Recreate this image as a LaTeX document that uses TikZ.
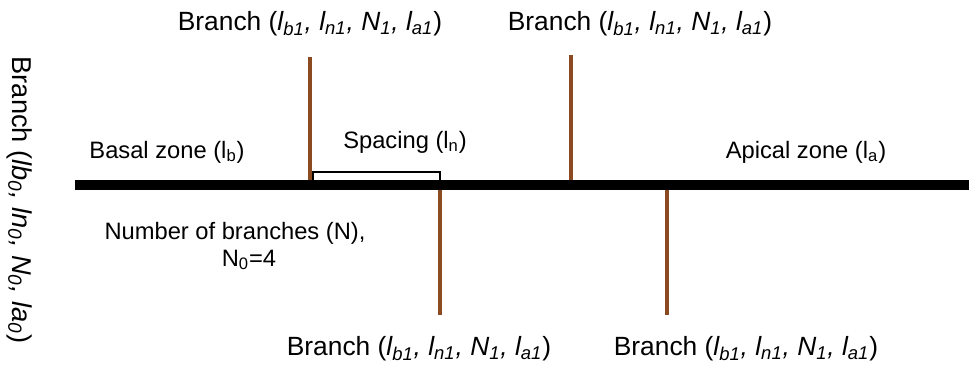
\documentclass[tikz,border=0pt]{standalone}
\usepackage{fontspec}
\setmainfont{Liberation Sans}
\usetikzlibrary{positioning}
\definecolor{stem}{RGB}{140,74,32}
\tikzset{
  branch/.style={draw=stem, line width=2.3pt},
  lbl/.style={font=\fontsize{13.5}{16}\selectfont, inner sep=0pt},
  brlbl/.style={font=\fontsize{15}{18}\selectfont, inner sep=0pt}
}
\newcommand{\brlabel}{Branch (\textit{l\textsubscript{b1}, l\textsubscript{n1}, N\textsubscript{1}, l\textsubscript{a1}})}

\begin{document}
\begin{tikzpicture}[x=0.02cm,y=-0.02cm]
\useasboundingbox (0,0) rectangle (969,369);
% points on the main axis
\coordinate (axL) at (75,185);
\coordinate (axR) at (969,185);
\coordinate (b1) at (310,185);
\coordinate (b2) at (571,185);
\coordinate (b3) at (440,185);
\coordinate (b4) at (667,185);
% branch tips
\coordinate (t1) at (310,57);
\coordinate (t2) at (571,55);
\coordinate (t3) at (440,315);
\coordinate (t4) at (667,315);

% draw branches
\draw[branch] (b1) -- (t1);
\draw[branch] (b2) -- (t2);
\draw[branch] (b3) -- (t3);
\draw[branch] (b4) -- (t4);

% spacing bracket
\coordinate (s1) at (313,172);
\coordinate (s2) at (440,172);
\draw[line width=0.6pt] (313,185) -- (s1) -- (s2) -- (b3);

% draw main axis
\draw[line width=5.7pt] (axL) -- (axR);

% labels
\node[brlbl] (lt1) at (310,24) {\brlabel};
\node[brlbl] (lt2) at (640,24) {\brlabel};
\node[brlbl] (lb3) at (419,349) {\brlabel};
\node[brlbl] (lb4) at (746,349) {\brlabel};
\node[lbl] (basal) at (167,152) {Basal zone (l\textsubscript{b})};
\node[lbl] (spacing) at (405,142) {Spacing (l\textsubscript{n})};
\node[lbl] (apical) at (806,152) {Apical zone (l\textsubscript{a})};
\node[lbl] (number) at (235,233) {Number of branches (N),};
\node[lbl] (nzero) at (249,260) {N\textsubscript{0}=4};
\node[brlbl, font=\fontsize{15.5}{18}\selectfont, rotate=-90] (main) at (20,200)
  {Branch (\textit{lb\textsubscript{0}, ln\textsubscript{0}, N\textsubscript{0}, la\textsubscript{0}})};
\end{tikzpicture}
\end{document}
